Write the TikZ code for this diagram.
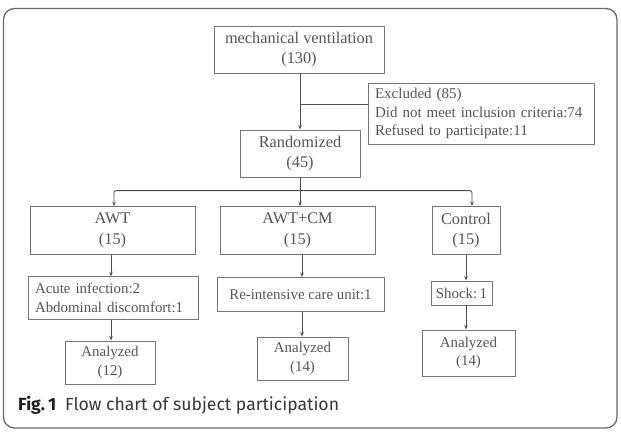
\documentclass[tikz,border=0pt]{standalone}
\usepackage{fontspec}
\setmainfont{Liberation Serif}
\newfontfamily\capfont{Fira Sans}
\usetikzlibrary{arrows.meta}
\definecolor{txt}{HTML}{555555}
\definecolor{bord}{HTML}{777777}
\definecolor{lin}{HTML}{505050}
\definecolor{frm}{HTML}{6A6A6A}
\tikzset{
  box/.style={draw=bord, line width=0.95pt, rectangle, inner sep=0pt, align=center, text=txt},
  bigtxt/.style={font=\fontsize{16.3}{20.5}\selectfont},
  smtxt/.style={font=\fontsize{14.9}{18.3}\selectfont},
  ln/.style={draw=lin, line width=0.9pt},
  arr/.style={ln, -{Stealth[length=4.5pt,width=3.5pt]}},
}
\begin{document}
\begin{tikzpicture}[x=1pt,y=-1pt]
\useasboundingbox (0,0) rectangle (621,435);
\fill[white] (0,0) rectangle (621,435);
\draw[frm, line width=1.3pt, rounded corners=11pt] (3.5,8.5) rectangle (617,428);

\node[box,bigtxt,minimum width=170pt,minimum height=47pt] (mv) at (299,49.5) {mechanical ventilation\\(130)};
\node[box,font=\fontsize{15}{18.3}\selectfont,minimum width=226pt,minimum height=61pt,align=left,text width=218pt,inner xsep=4pt] (excl) at (481,113.5) {\hspace*{3pt}Excluded (85)\\\hspace*{3pt}Did not meet inclusion criteria:74\\\hspace*{3pt}Refused to participate:11};
\node[box,bigtxt,minimum width=120pt,minimum height=47pt] (rand) at (300,153.5) {Randomized\\(45)};

\node[box,bigtxt,minimum width=165pt,minimum height=47.5pt] (awt) at (112.5,230.5) {AWT\\(15)};
\node[box,bigtxt,minimum width=155pt,minimum height=47.5pt] (awtcm) at (297.5,230.5) {AWT+CM\\(15)};
\node[box,bigtxt,minimum width=68pt,minimum height=48pt] (ctrl) at (466,230.5) {Control\\(15)};

\node[box,smtxt,minimum width=170pt,minimum height=42.5pt,align=left,text width=160pt,inner xsep=5pt] (acute) at (113,298) {\hspace*{2pt}Acute infection:2\\\hspace*{2pt}Abdominal discomfort:1};
\node[box,smtxt,minimum width=167pt,minimum height=33.5pt] (reint) at (300.5,294.3) {Re-intensive care unit:1};
\node[box,smtxt,minimum width=61pt,minimum height=24pt] (shock) at (461.5,293) {Shock:\,1};

\node[box,smtxt,minimum width=90pt,minimum height=43pt] (an1) at (110,362.5) {Analyzed\\(12)};
\node[box,smtxt,minimum width=91pt,minimum height=43pt] (an2) at (302.5,358.5) {Analyzed\\(14)};
\node[box,smtxt,minimum width=93pt,minimum height=46pt] (an3) at (468.5,353) {Analyzed\\(14)};

% connectors
\coordinate (eb) at (300,104);
\coordinate (br) at (300,190.7);
\path (mv.south) ++(1,0) coordinate (mvs);
\draw[arr] (mvs) -- (mvs |- rand.north);
\draw[ln] (eb) -- (eb -| excl.west);
\draw[ln] (rand.south) -- (br);
\draw[arr] (br) -- (br |- awtcm.north);
\path (awt.north) ++(1.5,0) coordinate (awtt);
\path (ctrl.north) ++(6,0) coordinate (ctop);
\draw[arr,rounded corners=2pt] (br) -| (awtt);
\draw[arr,rounded corners=2pt] (br) -| (ctop);

\path (awt.south) ++(-1.5,0) coordinate (awts);
\draw[arr] (awts) -- (awts |- acute.north);
\draw[arr] (awts |- acute.south) -- (awts |- an1.north);
\path (awtcm.south) ++(4.5,0) coordinate (cms);
\draw[arr] (cms) -- (cms |- reint.north);
\draw[arr] (cms |- reint.south) -- (cms |- an2.north);
\draw[arr] (ctrl.south) -- (ctrl.south |- shock.north);
\draw[arr] (ctrl.south |- shock.south) -- (ctrl.south |- an3.north);

\node[anchor=base west, inner sep=0pt, font=\capfont\fontsize{17.6}{20}\selectfont, text=black!88] (cap) at (18,410.5) {\textbf{Fig.\,1}\hspace{0.5em}{\color{black!78}Flow chart of subject participation}};
\end{tikzpicture}
\end{document}
